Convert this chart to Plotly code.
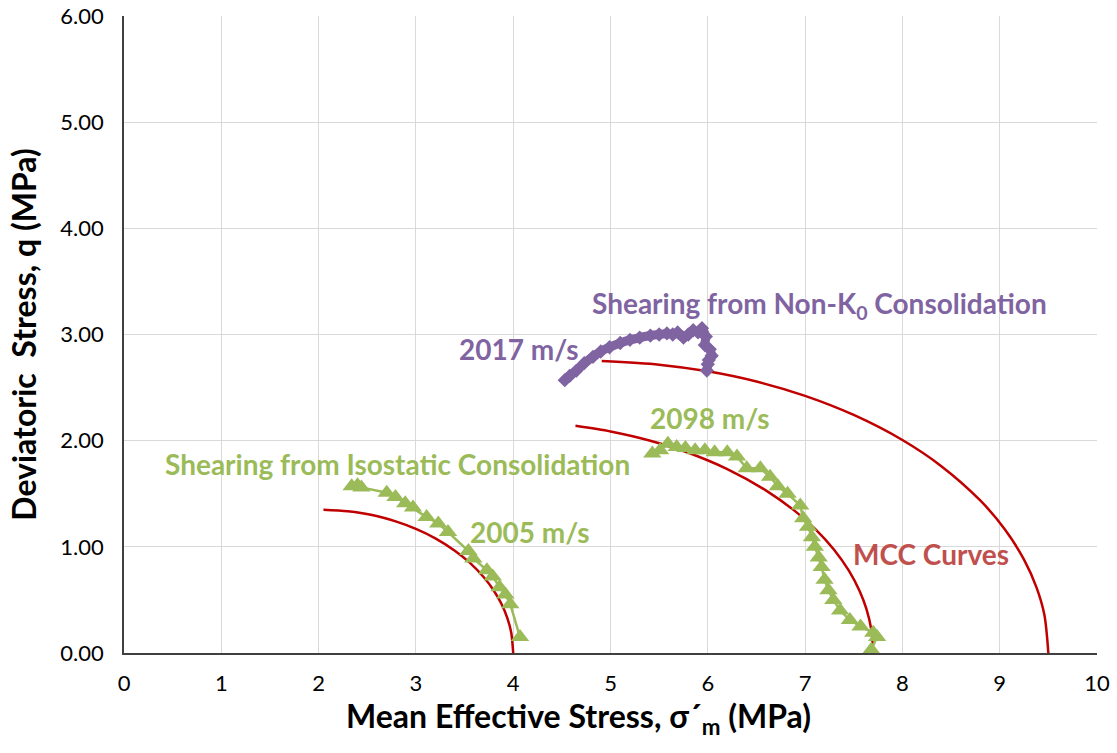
import plotly.graph_objects as go

# Shearing from isostatic consolidation, 2005 m/s
iso1_p = [2.34, 2.40, 2.44, 2.70, 2.79, 2.89, 2.97, 3.11, 3.23, 3.33, 3.54, 3.59, 3.73, 3.79, 3.86, 3.92, 3.97, 4.07]
iso1_q = [1.57, 1.58, 1.56, 1.51, 1.47, 1.41, 1.37, 1.28, 1.22, 1.14, 0.96, 0.89, 0.78, 0.72, 0.62, 0.55, 0.46, 0.15]

# Shearing from isostatic consolidation, 2098 m/s
iso2_p = [5.43, 5.51, 5.59, 5.68, 5.77, 5.87, 5.97, 6.07, 6.20, 6.30, 6.40, 6.54, 6.64, 6.72, 6.82, 6.95,
          6.98, 7.03, 7.07, 7.10, 7.14, 7.17, 7.20, 7.24, 7.29, 7.36, 7.46, 7.57, 7.70, 7.74, 7.68]
iso2_q = [1.88, 1.91, 1.97, 1.94, 1.93, 1.91, 1.91, 1.89, 1.89, 1.85, 1.74, 1.74, 1.66, 1.57, 1.50, 1.39,
          1.27, 1.19, 1.09, 1.00, 0.90, 0.81, 0.69, 0.59, 0.50, 0.40, 0.31, 0.25, 0.19, 0.15, 0.03]

# Shearing from non-K0 consolidation, 2017 m/s
k0_p = [4.53, 4.58, 4.65, 4.73, 4.82, 4.90, 4.99, 5.10, 5.20, 5.30, 5.41, 5.50, 5.58, 5.64, 5.69, 5.75,
        5.80, 5.85, 5.90, 5.94, 5.98, 5.97, 6.02, 6.04, 6.01, 6.00, 5.99]
k0_q = [2.57, 2.61, 2.66, 2.73, 2.79, 2.84, 2.88, 2.92, 2.95, 2.97, 2.99, 3.00, 3.01, 3.00, 3.02, 2.97,
        3.00, 3.04, 3.02, 3.06, 2.98, 2.90, 2.86, 2.80, 2.76, 2.72, 2.66]

# Modified Cam Clay yield curves
mcc1_p = [2.05, 2.30, 2.55, 2.80, 3.00, 3.20, 3.40, 3.55, 3.70, 3.80, 3.88, 3.94, 3.98, 4.00]
mcc1_q = [1.35, 1.335, 1.30, 1.237, 1.169, 1.08, 0.964, 0.853, 0.711, 0.589, 0.461, 0.328, 0.19, 0.00]

mcc2_p = [4.64, 5.00, 5.40, 5.80, 6.20, 6.60, 6.90, 7.10, 7.30, 7.45, 7.56, 7.63, 7.68, 7.70]
mcc2_q = [2.14, 2.087, 2.002, 1.886, 1.732, 1.530, 1.334, 1.172, 0.971, 0.775, 0.584, 0.415, 0.223, 0.00]

mcc3_p = [4.91, 5.50, 6.00, 6.50, 7.00, 7.50, 8.00, 8.40, 8.80, 9.05, 9.25, 9.38, 9.46, 9.50]
mcc3_q = [2.75, 2.716, 2.653, 2.557, 2.422, 2.242, 2.006, 1.760, 1.437, 1.168, 0.880, 0.614, 0.356, 0.00]

x_ticks = list(range(0, 11))
y_ticks = [0, 1, 2, 3, 4, 5, 6]

GREEN = "#9BBB59"
PURPLE = "#8064A2"
RED = "#C00000"
FONT = "Lato"

fig = go.Figure()

for px_, qy_ in [(mcc1_p, mcc1_q), (mcc2_p, mcc2_q), (mcc3_p, mcc3_q)]:
    fig.add_trace(go.Scatter(x=px_, y=qy_, mode="lines", line=dict(color=RED, width=2.5, shape="spline", smoothing=0.8),
                             showlegend=False, hoverinfo="skip"))

for px_, qy_ in [(iso1_p, iso1_q), (iso2_p, iso2_q)]:
    fig.add_trace(go.Scatter(x=px_, y=qy_, mode="lines+markers",
                             line=dict(color=GREEN, width=2.5),
                             marker=dict(symbol="triangle-up", size=16, color=GREEN),
                             showlegend=False))

fig.add_trace(go.Scatter(x=k0_p, y=k0_q, mode="lines+markers",
                         line=dict(color=PURPLE, width=9, shape="spline", smoothing=0.6),
                         marker=dict(symbol="diamond", size=11, color=PURPLE),
                         showlegend=False))

labels = [
    (4.79, 3.28, "Shearing from Non-K<sub>0</sub> Consolidation", PURPLE),
    (3.42, 2.86, "2017 m/s", PURPLE),
    (5.39, 2.21, "2098 m/s", GREEN),
    (0.40, 1.78, "Shearing from Isostatic Consolidation", GREEN),
    (3.54, 1.14, "2005 m/s", GREEN),
    (7.47, 0.93, "MCC Curves", "#C0504D"),
]
for x, y, t, c in labels:
    fig.add_annotation(x=x, y=y, text="<b>" + t + "</b>", showarrow=False, xanchor="left", yanchor="middle",
                       font=dict(family=FONT, size=28, color=c))

# x-axis title, placed slightly left of the plot centre
fig.add_annotation(x=0.4666, y=-0.102, xref="paper", yref="paper", xanchor="center", yanchor="middle",
                   text="<b>Mean Effective Stress, σ´<sub>m</sub> (MPa)</b>", showarrow=False,
                   font=dict(family=FONT, size=32, color="#000000"))

axis_common = dict(showgrid=True, gridcolor="#D9D9D9", gridwidth=1,
                   showline=True, linecolor="#404040", linewidth=1.5, zeroline=False,
                   ticks="", automargin=False,
                   tickfont=dict(family=FONT, size=22, color="#000000"))

fig.update_xaxes(range=[0, 10], tickvals=x_ticks, ticktext=[str(v) for v in x_ticks],
                 ticklabelstandoff=10, **axis_common)
fig.update_yaxes(range=[0, 6], tickvals=y_ticks, ticktext=["%.2f" % v for v in y_ticks],
                 ticklabelstandoff=14,
                 title=dict(text="<b>Deviatoric  Stress, q (MPa)</b>",
                            font=dict(family=FONT, size=32, color="#000000"), standoff=14),
                 **axis_common)

fig.update_layout(width=1117, height=753, margin=dict(l=124, r=20, t=16, b=100, autoexpand=False),
                  plot_bgcolor="white", paper_bgcolor="white")

fig.write_html("out.html")
